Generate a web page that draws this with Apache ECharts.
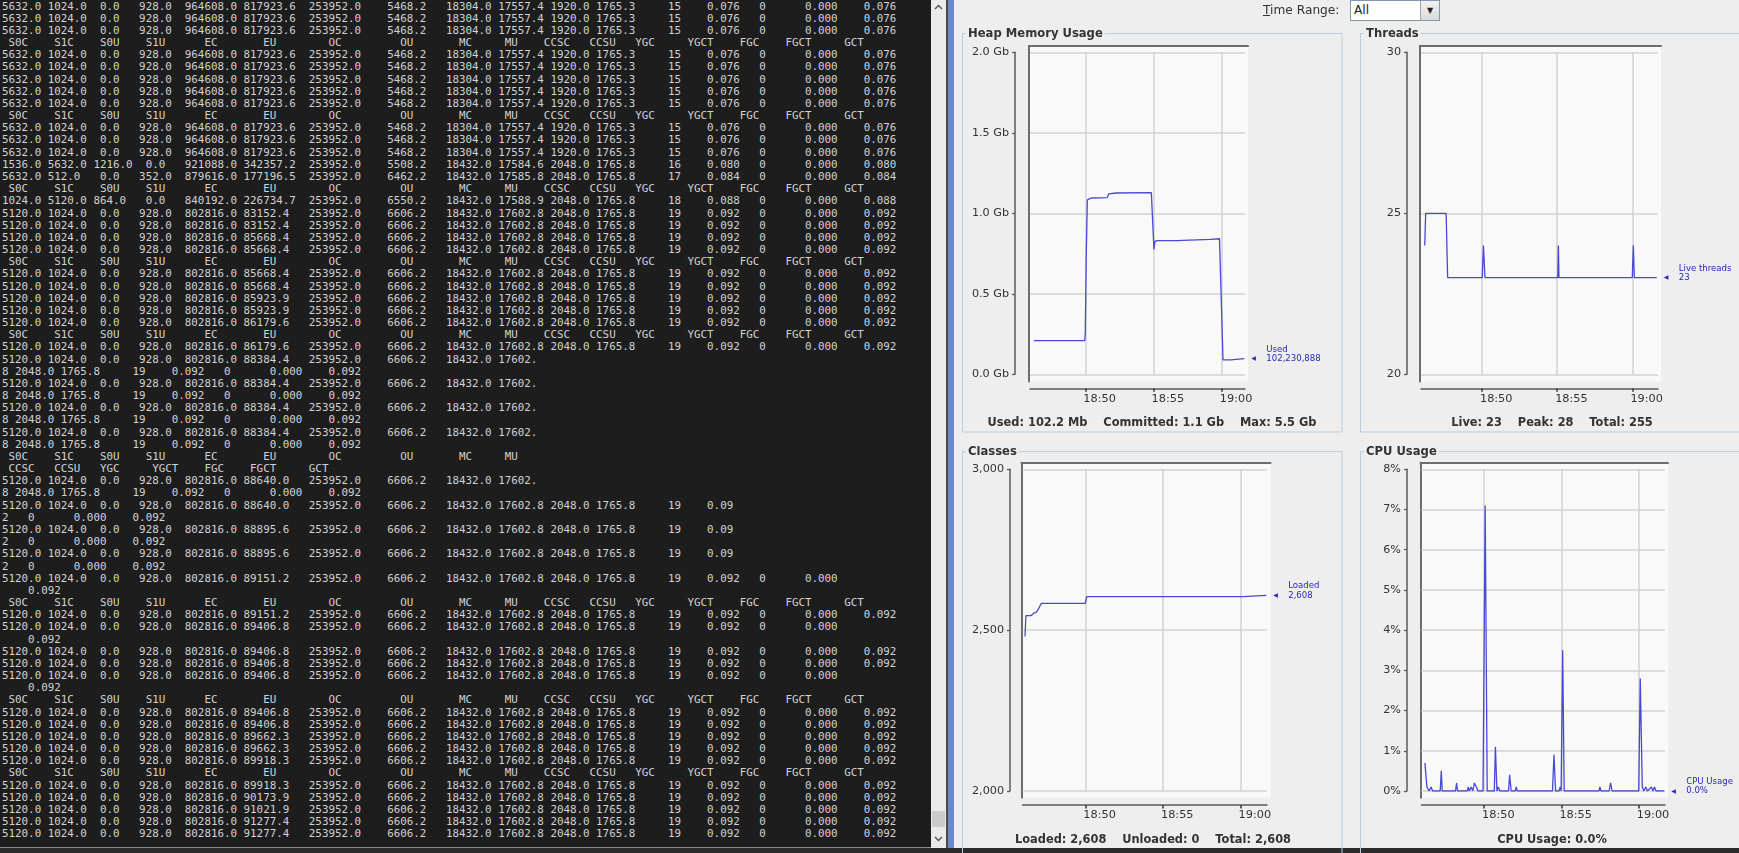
<!DOCTYPE html>
<html>
<head>
<meta charset="utf-8">
<script src="https://cdn.jsdelivr.net/npm/echarts@6/dist/echarts.min.js"></script>
<style>
html,body{margin:0;padding:0;width:1739px;height:853px;overflow:hidden;background:#eeeeee;}
#term{position:absolute;left:0;top:0;width:931px;height:847px;background:#1d1d1d;overflow:hidden;}
#term pre{position:absolute;left:2px;top:0.6px;margin:0;padding:0;font-family:"DejaVu Sans Mono",monospace;font-size:10.85px;line-height:12.17px;color:#d2d2d2;white-space:pre;}
#termline{position:absolute;left:0;top:847px;width:946px;height:1px;background:#8c8c8c;}
#sb{position:absolute;left:931px;top:0;width:15px;height:848px;background:#ebebeb;}
#thumb{position:absolute;left:932px;top:811px;width:13px;height:16px;background:#cbcbcb;}
.chev{position:absolute;left:933px;width:11px;height:8px;}
#sep{position:absolute;left:946px;top:0;width:2px;height:848px;background:#4a4a4a;}
#blue{position:absolute;left:948px;top:0;width:6px;height:848px;background:#6b89c9;}
#strip{position:absolute;left:0;top:848px;width:1739px;height:5px;background:#2b2b2b;}
#chart{position:absolute;left:0;top:0;width:1739px;height:853px;z-index:5;}
#tr{position:absolute;left:1263px;top:3px;font:12.2px "DejaVu Sans",sans-serif;color:#333;line-height:15px;z-index:6;}
#dd{position:absolute;left:1350px;top:0;width:90px;height:21px;box-sizing:border-box;border:1px solid #8399b3;background:#fff;z-index:6;}
#dd span{position:absolute;left:3px;top:2px;font:12.2px "DejaVu Sans",sans-serif;color:#222;line-height:15px;}
#ddb{position:absolute;right:0;top:0;width:18px;height:19px;background:linear-gradient(#f2f2f2,#dadada);border-left:1px solid #9aa8b8;font:8px "DejaVu Sans",sans-serif;color:#222;text-align:center;line-height:19px;}
</style>
</head>
<body>
<div id="term"><pre id="termtext"></pre></div>
<div id="termline"></div>
<div id="sb"></div>
<svg class="chev" style="top:3px" viewBox="0 0 11 8"><polyline points="2,6 5.5,2.5 9,6" fill="none" stroke="#555" stroke-width="1.4"/></svg>
<div id="thumb"></div>
<svg class="chev" style="top:835px" viewBox="0 0 11 8"><polyline points="2,2 5.5,5.5 9,2" fill="none" stroke="#555" stroke-width="1.4"/></svg>
<div id="sep"></div>
<div id="blue"></div>
<div id="strip"></div>
<div id="tr"><u>T</u>ime Range:</div>
<div id="dd"><span>All</span><div id="ddb">&#9660;</div></div>
<div id="chart"></div>
<script>
// ---------------- terminal (jstat -gc output) ----------------
const gcHeader = " S0C    S1C    S0U    S1U      EC       EU        OC         OU       MC     MU    CCSC   CCSU   YGC     YGCT    FGC    FGCT     GCT   ";
const row5632 = "5632.0 1024.0  0.0   928.0  964608.0 817923.6  253952.0    5468.2   18304.0 17557.4 1920.0 1765.3     15    0.076   0      0.000    0.076";
const row1536 = "1536.0 5632.0 1216.0  0.0   921088.0 342357.2  253952.0    5508.2   18432.0 17584.6 2048.0 1765.8     16    0.080   0      0.000    0.080";
const row512  = "5632.0 512.0   0.0   352.0  879616.0 177196.5  253952.0    6462.2   18432.0 17585.8 2048.0 1765.8     17    0.084   0      0.000    0.084";
const row1024 = "1024.0 5120.0 864.0   0.0   840192.0 226734.7  253952.0    6550.2   18432.0 17588.9 2048.0 1765.8     18    0.088   0      0.000    0.088";
function row5120(eu){ return "5120.0 1024.0  0.0   928.0  802816.0 " + eu.padEnd(8) + "  253952.0    6606.2   18432.0 17602.8 2048.0 1765.8     19    0.092   0      0.000    0.092"; }
function wrapAt(s, n){ return [s.substring(0, n), s.substring(n)]; }
const termLines = [].concat(
  [row5632, row5632, row5632, gcHeader],
  [row5632, row5632, row5632, row5632, row5632, gcHeader],
  [row5632, row5632, row5632, row1536, row512, gcHeader],
  [row1024, row5120("83152.4"), row5120("83152.4"), row5120("85668.4"), row5120("85668.4"), gcHeader],
  [row5120("85668.4"), row5120("85668.4"), row5120("85923.9"), row5120("85923.9"), row5120("86179.6"), gcHeader],
  [row5120("86179.6")],
  wrapAt(row5120("88384.4"), 82), wrapAt(row5120("88384.4"), 82), wrapAt(row5120("88384.4"), 82), wrapAt(row5120("88384.4"), 82),
  wrapAt(gcHeader, 82),
  wrapAt(row5120("88640.0"), 82),
  wrapAt(row5120("88640.0"), 112), wrapAt(row5120("88895.6"), 112), wrapAt(row5120("88895.6"), 112),
  wrapAt(row5120("89151.2"), 128),
  [gcHeader, row5120("89151.2")],
  wrapAt(row5120("89406.8"), 128),
  [row5120("89406.8"), row5120("89406.8")],
  wrapAt(row5120("89406.8"), 128),
  [gcHeader, row5120("89406.8"), row5120("89406.8"), row5120("89662.3"), row5120("89662.3"), row5120("89918.3"), gcHeader],
  [row5120("89918.3"), row5120("90173.9"), row5120("91021.9"), row5120("91277.4"), row5120("91277.4")]
);
document.getElementById('termtext').textContent = termLines.join('\n');

// ---------------- chart data (minutes after 18:00) ----------------
const tickMinutes = [50, 55, 60];
const tickLabels = ['18:50', '18:55', '19:00'];

const heapTime   = [46.24, 49.96, 50.0, 50.07, 50.15, 50.22, 50.45, 51.6, 51.71, 52.27, 54.84, 54.92, 55.03, 55.1, 55.25, 56.67, 56.78, 59.16, 59.24, 59.83, 60.09, 60.65, 60.73, 61.65];
const heapUsedGb = [0.209, 0.209, 0.255, 0.735, 1.083, 1.088, 1.095, 1.097, 1.12, 1.126, 1.128, 1.13, 0.776, 0.824, 0.83, 0.83, 0.838, 0.838, 0.842, 0.842, 0.089, 0.089, 0.097, 0.097];

const threadsTime = [46.2, 46.26, 47.62, 47.72, 50.02, 50.1, 50.2, 55.04, 55.08, 55.12, 59.99, 60.06, 60.13, 61.62];
const liveThreads = [24, 25, 25, 23, 23, 24, 23, 23, 24, 23, 23, 24, 23, 23];

const classesTime   = [46.11, 46.17, 46.5, 46.67, 46.83, 46.94, 47.16, 50.0, 50.09, 60.17, 60.23, 61.65];
const loadedClasses = [2480, 2545, 2545, 2553, 2555, 2563, 2583, 2583, 2604, 2604, 2608, 2608];

const cpuTime = [46.17, 46.30, 46.44, 46.57, 46.67, 47.16, 47.23, 47.29, 48.15, 48.22, 48.28, 48.91, 48.98, 49.04, 49.17, 49.27, 49.37, 49.50, 49.60, 49.93,
                 50.07, 50.20, 50.66, 50.73, 50.83, 50.92, 51.02, 51.58, 51.65, 51.75, 52.01, 52.08, 52.15, 54.42, 54.52, 54.62, 54.85, 54.92, 54.98, 55.08,
                 55.18, 57.43, 57.49, 57.56, 58.09, 58.18, 58.28, 60.0, 60.10, 60.23, 60.33, 60.46, 60.56, 60.82, 60.92, 61.02, 61.12, 61.65];
const cpuUsage = [0.7, 0.1, 0.0, 0.1, 0.0, 0.0, 0.5, 0.0, 0.0, 0.2, 0.0, 0.0, 0.1, 0.0, 0.1, 0.0, 0.2, 0.1, 0.0, 0.0,
                  7.1, 0.0, 0.0, 1.1, 0.0, 0.1, 0.0, 0.0, 0.4, 0.0, 0.0, 0.1, 0.0, 0.0, 0.9, 0.0, 0.0, 0.1, 0.0, 3.5,
                  0.0, 0.0, 0.1, 0.0, 0.0, 0.2, 0.0, 0.0, 2.8, 0.1, 0.0, 0.1, 0.0, 0.1, 0.0, 0.1, 0.0, 0.0];

const panelTitles = ['Heap Memory Usage', 'Threads', 'Classes', 'CPU Usage'];
const heapLegend = ['Used', '102,230,888'];
const threadsLegend = ['Live threads', '23'];
const classesLegend = ['Loaded', '2,608'];
const cpuLegend = ['CPU Usage', '0.0%'];
const statusTexts = [
  'Used: 102.2 Mb    Committed: 1.1 Gb    Max: 5.5 Gb',
  'Live: 23    Peak: 28    Total: 255',
  'Loaded: 2,608    Unloaded: 0    Total: 2,608',
  'CPU Usage: 0.0%'
];

// ---------------- styling / layout ----------------
const FONT = '"DejaVu Sans", sans-serif';
const COND = '"DejaVu Sans Condensed", "DejaVu Sans", sans-serif';
const AXIS_COL = '#5a5a5a', GRID_COL = '#d2d2d2', LINE_COL = '#4848d6', LEG_COL = '#2626c4', TXT = '#333333';
const T0 = 45.95, T1 = 61.7;

function comma(v){ return String(v).replace(/\B(?=(\d{3})+(?!\d))/g, ','); }

const specs = [
  { t: heapTime, v: heapUsedGb, legend: heapLegend, min: 0, max: 2, interval: 0.5, fmt: v => v.toFixed(1) + ' Gb',
    frame: {left:1029, top:46, width:219, height:335.5}, data: {left:1030, top:52.3, width:215, height:322}, yOffset: 15,
    panel: [962.5, 33.5, 379.5, 398.5], status: [1152, 423.3] },
  { t: threadsTime, v: liveThreads, legend: threadsLegend, min: 20, max: 30, interval: 5, fmt: v => String(v),
    frame: {left:1420, top:46, width:241, height:335.5}, data: {left:1421, top:52.3, width:237, height:322}, yOffset: 14,
    panel: [1360.5, 33.5, 400, 398.5], status: [1552, 423.3] },
  { t: classesTime, v: loadedClasses, legend: classesLegend, min: 2000, max: 3000, interval: 500, fmt: v => comma(v),
    frame: {left:1021.5, top:462.7, width:249, height:335}, data: {left:1022.5, top:469.3, width:244.5, height:321.7}, yOffset: 12.5,
    panel: [962.5, 451.7, 379.5, 440], status: [1153, 840] },
  { t: cpuTime, v: cpuUsage, legend: cpuLegend, min: 0, max: 8, interval: 1, fmt: v => v + '%',
    frame: {left:1420.5, top:462.7, width:247.5, height:335}, data: {left:1421.5, top:469.3, width:243.5, height:321.7}, yOffset: 14.5,
    panel: [1360.5, 451.7, 400, 440], status: [1552, 840] }
];

const grid = [], xAxis = [], yAxis = [], series = [], graphic = [];
const N = specs.length;
specs.forEach((s, i) => {
  grid[i] = Object.assign({ show: true, backgroundColor: '#f9f9f9', borderWidth: 0, z: 0, containLabel: false, outerBoundsMode: 'none' }, s.frame);
  grid[N + i] = Object.assign({ show: false, containLabel: false, outerBoundsMode: 'none' }, s.data);
});
specs.forEach((s, i) => {
  // frame axes: dark top and left edges of the plot box
  xAxis[i] = { gridIndex: i, type: 'value', min: 0, max: 1, position: 'top', z: 1,
    axisLine: { show: true, onZero: false, lineStyle: { color: '#6c6c6c', width: 2 } },
    axisTick: { show: false }, axisLabel: { show: false }, splitLine: { show: false } };
  yAxis[i] = { gridIndex: i, type: 'value', min: 0, max: 1, position: 'left', z: 1,
    axisLine: { show: true, onZero: false, lineStyle: { color: '#6c6c6c', width: 2 } },
    axisTick: { show: false }, axisLabel: { show: false }, splitLine: { show: false } };
  // data axes
  xAxis[N + i] = { gridIndex: N + i, type: 'value', min: T0, max: T1, position: 'bottom', offset: 14, z: 2,
    axisLine: { show: true, onZero: false, lineStyle: { color: AXIS_COL, width: 1.5 } },
    axisTick: { show: true, customValues: tickMinutes, length: 3.5, lineStyle: { color: '#404040', width: 1.6 } },
    axisLabel: { show: true, customValues: tickMinutes, formatter: v => tickLabels[tickMinutes.indexOf(Math.round(v))] || '',
      align: 'left', margin: 5, fontSize: 11.3, fontFamily: FONT, color: TXT, padding: [0, 0, 0, -2] },
    splitLine: { show: true, lineStyle: { color: GRID_COL, width: 1.5 } } };
  yAxis[N + i] = { gridIndex: N + i, type: 'value', min: s.min, max: s.max, interval: s.interval, position: 'left', offset: s.yOffset, z: 2,
    axisLine: { show: true, onZero: false, lineStyle: { color: AXIS_COL, width: 1.5 } },
    axisTick: { show: true, length: 3, lineStyle: { color: AXIS_COL, width: 1.3 } },
    axisLabel: { show: true, formatter: s.fmt, margin: 6, fontSize: 11.2, fontFamily: FONT, color: TXT },
    splitLine: { show: true, lineStyle: { color: GRID_COL, width: 1.5 } } };
  series.push({
    type: 'line', xAxisIndex: N + i, yAxisIndex: N + i, z: 5,
    data: s.t.map((x, k) => [x, s.v[k]]),
    showSymbol: false, symbol: 'none', silent: true, animation: false,
    lineStyle: { color: LINE_COL, width: 1.3 }, itemStyle: { color: LINE_COL },
    endLabel: { show: true, distance: 7, offset: [0, -4.7],
      formatter: () => '{s| }{n|' + s.legend[0] + '}\n{a|\u25C0}{n|' + s.legend[1] + '}',
      rich: {
        s: { width: 15, fontSize: 6 },
        a: { width: 15, fontSize: 6, color: LEG_COL, fontFamily: FONT },
        n: { fontSize: 9.5, fontFamily: COND, color: LEG_COL, lineHeight: 9.4 }
      } }
  });
  // titled panel border
  graphic.push({ type: 'rect', silent: true, z: -10,
    shape: { x: s.panel[0], y: s.panel[1], width: s.panel[2], height: s.panel[3] },
    style: { fill: 'none', stroke: '#b9cde3', lineWidth: 1 } });
  graphic.push({ type: 'text', silent: true, z: 10, x: s.panel[0] + 3.5, y: s.panel[1] + 0.5,
    style: { text: panelTitles[i], font: 'bold 11.6px ' + FONT, fill: TXT, align: 'left', verticalAlign: 'middle',
      textAlign: 'left', textVerticalAlign: 'middle', backgroundColor: '#eeeeee', padding: [1, 2, 1, 2] } });
  graphic.push({ type: 'text', silent: true, z: 10, x: s.status[0], y: s.status[1],
    style: { text: statusTexts[i], font: 'bold 11.4px ' + FONT, fill: TXT, align: 'center', verticalAlign: 'middle',
      textAlign: 'center', textVerticalAlign: 'middle' } });
});

const chart = echarts.init(document.getElementById('chart'), null, { renderer: 'canvas' });
chart.setOption({
  backgroundColor: 'transparent',
  animation: false,
  grid, xAxis, yAxis, series, graphic
});
</script>
</body>
</html>
